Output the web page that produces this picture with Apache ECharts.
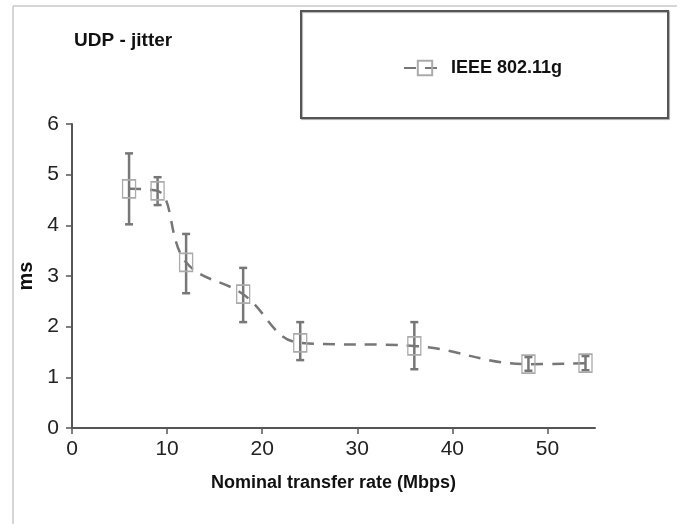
<!DOCTYPE html>
<html>
<head>
<meta charset="utf-8">
<script src="https://cdn.jsdelivr.net/npm/echarts@6/dist/echarts.min.js"></script>
<style>
  html, body { margin: 0; padding: 0; background: #fff; }
  #chart { width: 688px; height: 524px; }
</style>
</head>
<body>
<div id="chart"></div>
<script>
// data
var rates = [6, 9, 12, 18, 24, 36, 48, 54];
var jitter = [4.72, 4.68, 3.27, 2.64, 1.68, 1.62, 1.26, 1.28];
var errLow = [4.02, 4.40, 2.66, 2.09, 1.34, 1.16, 1.13, 1.14];
var errHigh = [5.42, 4.95, 3.83, 3.16, 2.09, 2.09, 1.40, 1.42];
var xTicks = [0, 10, 20, 30, 40, 50];

var font = '"Liberation Sans Narrow", "Liberation Sans", Arial, sans-serif';

(function(){
    var myChart = echarts.init(document.getElementById('chart'));

    var lineData = rates.map(function(r, i){ return [r, jitter[i]]; });
    var barData = rates.map(function(r, i){ return [r, errLow[i], errHigh[i]]; });

    var option = {
        backgroundColor: '#fff',
        animation: false,
        title: {
            text: 'UDP - jitter',
            left: 69,
            top: 26,
            textStyle: { fontFamily: font, fontSize: 19, fontWeight: 'bold', color: '#111' }
        },
        graphic: [
            { type: 'line', shape: { x1: 13, y1: 6, x2: 677, y2: 6 }, style: { stroke: '#c8c8c8', lineWidth: 1.5 } },
            { type: 'line', shape: { x1: 13, y1: 6, x2: 13, y2: 524 }, style: { stroke: '#c8c8c8', lineWidth: 1.5 } },
            { type: 'rect', shape: { x: 301, y: 11, width: 367, height: 107 },
              style: { fill: '#fff', stroke: '#555', lineWidth: 2, shadowColor: 'rgba(0,0,0,0.3)', shadowOffsetX: 1, shadowOffsetY: 1, shadowBlur: 1 },
              z: -1 }
        ],
        legend: {
            left: 398,
            top: 54,
            itemWidth: 42,
            itemHeight: 18,
            itemGap: 6,
            textStyle: { fontFamily: font, fontSize: 18, fontWeight: 'bold', color: '#111' },
            data: ['IEEE 802.11g']
        },
        grid: { left: 72, right: 93, top: 124, bottom: 96 },
        xAxis: {
            type: 'value',
            min: 0,
            max: 55,
            interval: 10,
            name: 'Nominal transfer rate (Mbps)',
            nameLocation: 'middle',
            nameGap: 46,
            nameTextStyle: { fontFamily: font, fontSize: 18, fontWeight: 'bold', color: '#111' },
            axisLine: { lineStyle: { color: '#555', width: 2 } },
            axisTick: { customValues: xTicks, length: 6, lineStyle: { color: '#555', width: 1.5 } },
            axisLabel: { customValues: xTicks, fontFamily: font, fontSize: 21, color: '#222', margin: 11 },
            splitLine: { show: false }
        },
        yAxis: {
            type: 'value',
            min: 0,
            max: 6,
            interval: 1,
            name: 'ms',
            nameLocation: 'middle',
            nameGap: 33,
            nameTextStyle: { fontFamily: font, fontSize: 20, fontWeight: 'bold', color: '#111' },
            axisLine: { show: true, lineStyle: { color: '#555', width: 2 } },
            axisTick: { show: true, length: 6, lineStyle: { color: '#555', width: 1.5 } },
            axisLabel: { fontFamily: font, fontSize: 21, color: '#222', margin: 13 },
            splitLine: { show: false }
        },
        series: [
            {
                name: 'IEEE 802.11g',
                type: 'line',
                data: lineData,
                smooth: 0.4,
                symbol: 'rect',
                symbolSize: [13, 18],
                itemStyle: { color: 'rgba(255,255,255,0)', borderColor: '#aaa', borderWidth: 1.5 },
                lineStyle: { color: '#777', width: 2.5, type: [12, 9] },
                z: 3
            },
            {
                name: 'err',
                type: 'custom',
                data: barData,
                renderItem: function(params, api){
                    var x = api.value(0);
                    var lo = api.coord([x, api.value(1)]);
                    var hi = api.coord([x, api.value(2)]);
                    var half = 4;
                    var st = { stroke: '#777', lineWidth: 2.5 };
                    return {
                        type: 'group',
                        children: [
                            { type: 'line', shape: { x1: lo[0], y1: lo[1], x2: hi[0], y2: hi[1] }, style: st },
                            { type: 'line', shape: { x1: lo[0] - half, y1: lo[1], x2: lo[0] + half, y2: lo[1] }, style: st },
                            { type: 'line', shape: { x1: hi[0] - half, y1: hi[1], x2: hi[0] + half, y2: hi[1] }, style: st }
                        ]
                    };
                },
                z: 2
            }
        ]
    };

    myChart.setOption(option);
    window.addEventListener('resize', function(){
        myChart.resize();
    });
})();
</script>
</body>
</html>
